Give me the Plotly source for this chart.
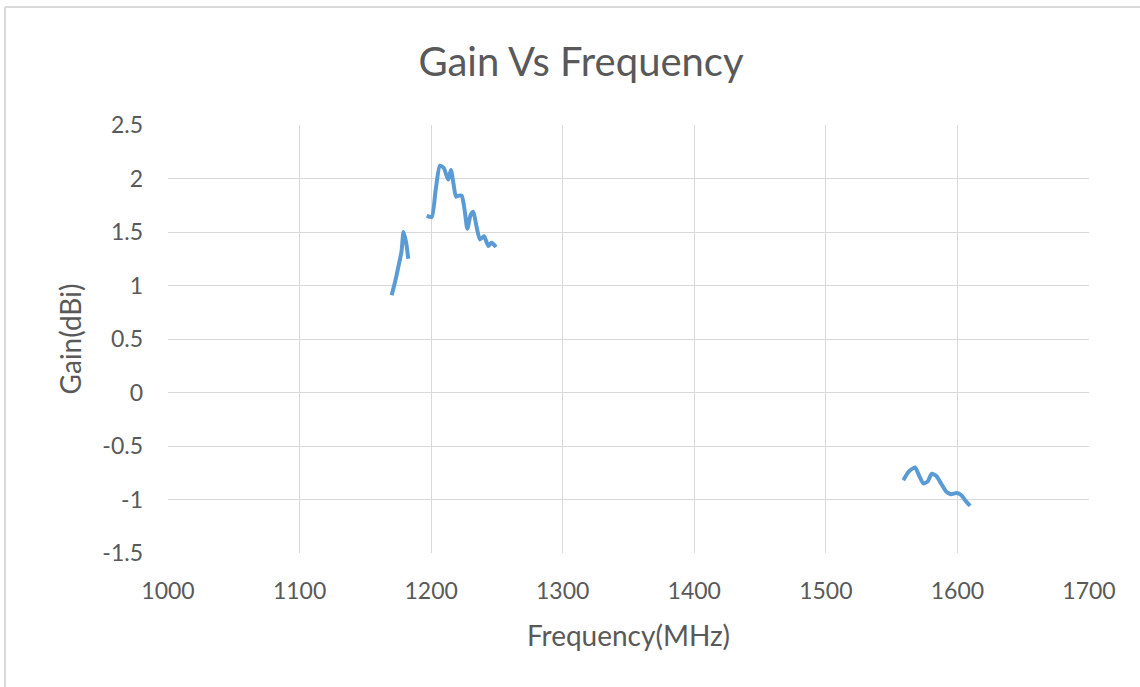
import plotly.graph_objects as go

# Segment data (frequency in MHz, gain in dBi)
freq_a = [1170, 1172.5, 1175, 1177.5, 1179, 1181, 1182.6]
gain_a = [0.91, 1.03, 1.17, 1.32, 1.50, 1.40, 1.25]

freq_b = [1196.6, 1200.4, 1203.5, 1206.7, 1209.5, 1213, 1215, 1217, 1218.9, 1221, 1223.2, 1225.5,
          1227.5, 1230, 1232, 1234.5, 1237.1, 1240.2, 1243.5, 1246, 1249.3]
gain_b = [1.65, 1.64, 1.90, 2.12, 2.10, 1.99, 2.08, 1.95, 1.83, 1.84, 1.84, 1.70,
          1.53, 1.66, 1.69, 1.55, 1.43, 1.46, 1.37, 1.40, 1.36]

freq_c = [1558.9, 1563, 1567.8, 1571, 1574.1, 1577.5, 1580.4, 1584, 1588, 1591.8, 1595, 1599.4, 1603, 1606, 1609.6]
gain_c = [-0.82, -0.74, -0.70, -0.78, -0.85, -0.83, -0.76, -0.78, -0.86, -0.93, -0.95, -0.94, -0.96, -1.01, -1.06]

x_ticks = [1000, 1100, 1200, 1300, 1400, 1500, 1600, 1700]
y_ticks = [-1.5, -1, -0.5, 0, 0.5, 1, 1.5, 2, 2.5]

FONT = "Lato, 'Open Sans', sans-serif"
LINE = "#5B9BD5"
GRID = "#D9D9D9"
TXT = "#595959"

fig = go.Figure()
for fx, gy in [(freq_a, gain_a), (freq_b, gain_b), (freq_c, gain_c)]:
    fig.add_trace(go.Scatter(x=fx, y=gy, mode="lines",
                             line=dict(color=LINE, width=4, shape="spline", smoothing=0.6),
                             showlegend=False, hoverinfo="x+y"))

fig.update_layout(
    width=1140, height=687,
    margin=dict(l=168, r=51, t=125, b=134, autoexpand=False),
    paper_bgcolor="white", plot_bgcolor="white",
    font=dict(family=FONT, color=TXT, size=23),
    title=dict(text="Gain Vs Frequency", x=581/1140, xanchor="center",
               y=1 - 62/687, yanchor="middle", xref="container", yref="container",
               font=dict(size=40, color=TXT, family=FONT)),
    xaxis=dict(range=[1000, 1700], tickvals=x_ticks, ticktext=[str(v) for v in x_ticks],
               showgrid=True, gridcolor=GRID, gridwidth=1, zeroline=False,
               showline=False, ticks="", ticklen=0, ticklabelstandoff=22,
               tickfont=dict(size=23, color=TXT, family=FONT),
               title=dict(text="Frequency(MHz)", font=dict(size=28, color=TXT, family=FONT), standoff=23)),
    yaxis=dict(range=[-1.5, 2.5], tickvals=y_ticks, ticktext=[f"{v:g}" for v in y_ticks],
               showgrid=True, gridcolor=GRID, gridwidth=1, zeroline=True, zerolinecolor=GRID, zerolinewidth=1,
               showline=False, ticks="", ticklen=0, ticklabelstandoff=24,
               tickfont=dict(size=23, color=TXT, family=FONT),
               title=dict(text="Gain(dBi)", font=dict(size=28, color=TXT, family=FONT), standoff=12)),
)

# chart frame edges (left and top), as in the reference image
fig.add_shape(type="line", xref="paper", yref="paper",
              x0=(5 - 168) / 921, x1=(5 - 168) / 921, y0=(553 - 687) / 428, y1=1 + (125 - 7) / 428,
              line=dict(color="#D9D9D9", width=2))
fig.add_shape(type="line", xref="paper", yref="paper",
              x0=(5 - 168) / 921, x1=(1140 - 168) / 921, y0=1 + (125 - 7) / 428, y1=1 + (125 - 7) / 428,
              line=dict(color="#D9D9D9", width=2))

fig.write_html("out.html", config={"displayModeBar": False},
               post_script="document.body.style.margin='0';document.body.style.overflow='hidden';")
